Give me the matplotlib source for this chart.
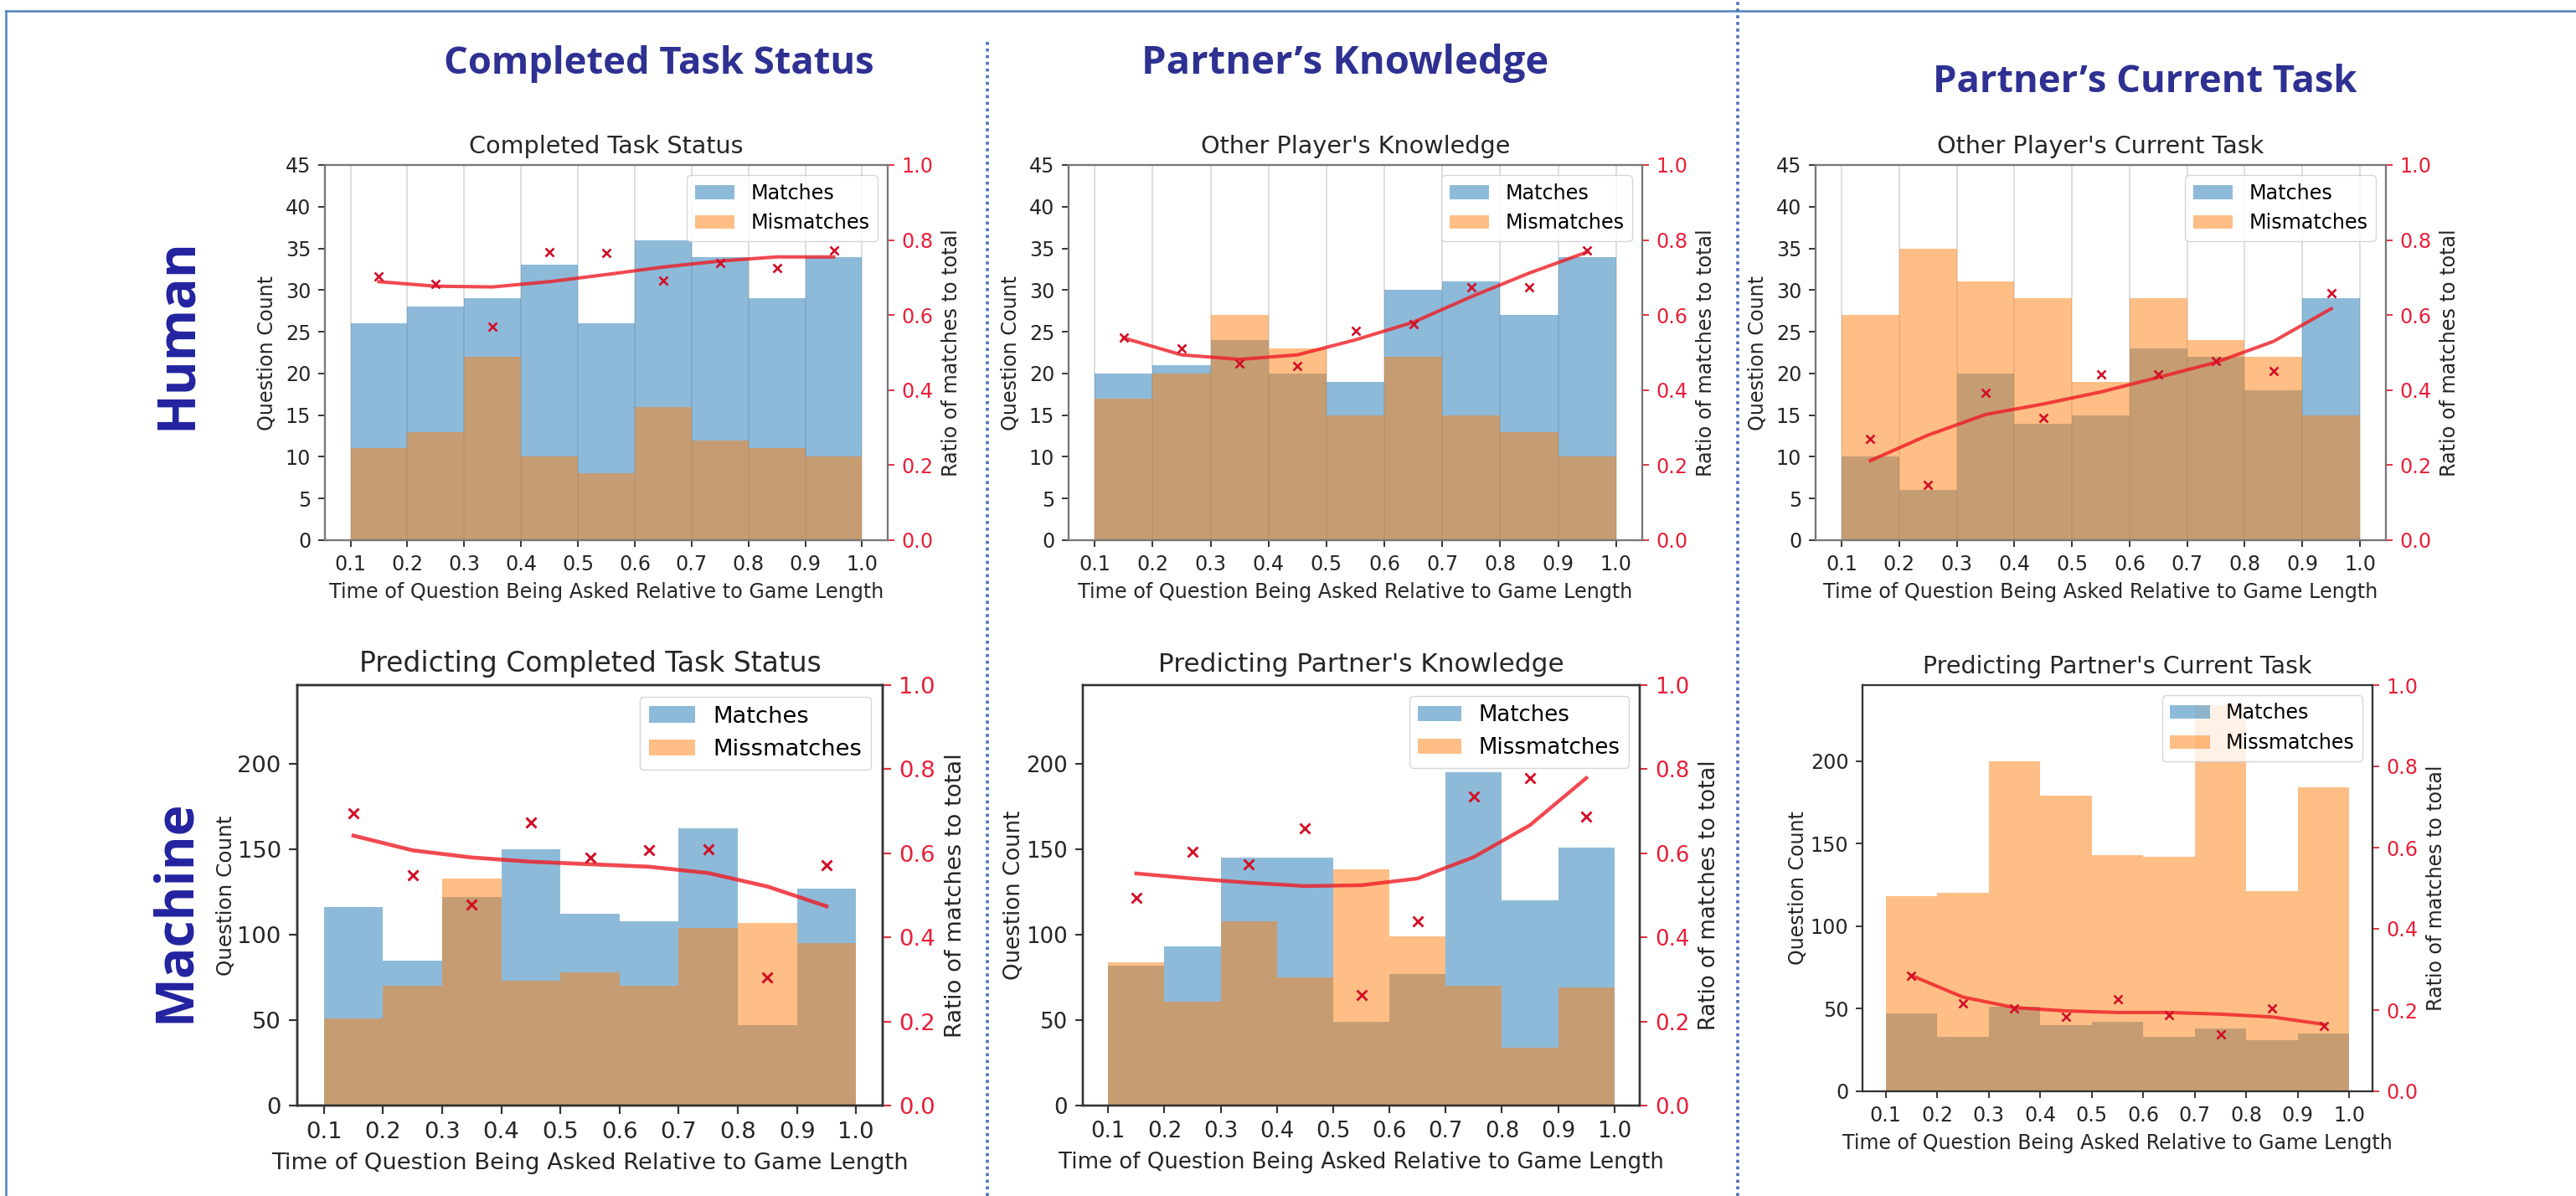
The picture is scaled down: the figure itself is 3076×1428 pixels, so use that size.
import numpy as np
import matplotlib
matplotlib.use('Agg')
import matplotlib.pyplot as plt
from matplotlib import font_manager as fm
from matplotlib.lines import Line2D

# ---------------- data ----------------
bin_edges = [0.1, 0.2, 0.3, 0.4, 0.5, 0.6, 0.7, 0.8, 0.9, 1.0]
bin_centers = [0.15, 0.25, 0.35, 0.45, 0.55, 0.65, 0.75, 0.85, 0.95]
xtick_labels = ['0.1', '0.2', '0.3', '0.4', '0.5', '0.6', '0.7', '0.8', '0.9', '1.0']

col_headers = ['Completed Task Status', 'Partner\u2019s Knowledge', 'Partner\u2019s Current Task']
row_labels = ['Human', 'Machine']

titles = ['Completed Task Status', "Other Player's Knowledge", "Other Player's Current Task",
          'Predicting Completed Task Status', "Predicting Partner's Knowledge",
          "Predicting Partner's Current Task"]
legend_top = ['Matches', 'Mismatches']
legend_bottom = ['Matches', 'Missmatches']
xlabel = 'Time of Question Being Asked Relative to Game Length'
ylabel = 'Question Count'
ylabel_right = 'Ratio of matches to total'

# Human - completed task status
h_task_matches = [26, 28, 29, 33, 26, 36, 34, 29, 34]
h_task_mismatches = [11, 13, 22, 10, 8, 16, 12, 11, 10]
h_task_trend = [0.689, 0.677, 0.675, 0.689, 0.708, 0.728, 0.744, 0.755, 0.755]
# Human - other player's knowledge
h_know_matches = [20, 21, 24, 20, 19, 30, 31, 27, 34]
h_know_mismatches = [17, 20, 27, 23, 15, 22, 15, 13, 10]
h_know_trend = [0.539, 0.494, 0.482, 0.494, 0.534, 0.581, 0.649, 0.712, 0.768]
# Human - other player's current task
h_cur_matches = [10, 6, 20, 14, 15, 23, 22, 18, 29]
h_cur_mismatches = [27, 35, 31, 29, 19, 29, 24, 22, 15]
h_cur_trend = [0.212, 0.280, 0.335, 0.363, 0.395, 0.434, 0.474, 0.530, 0.617]
# Machine - completed task status
m_task_matches = [116, 85, 122, 150, 112, 108, 162, 47, 127]
m_task_mismatches = [51, 70, 133, 73, 78, 70, 104, 107, 95]
m_task_trend = [0.642, 0.607, 0.590, 0.580, 0.574, 0.568, 0.553, 0.521, 0.474]
# Machine - partner's knowledge
m_know_matches = [82, 93, 145, 145, 49, 77, 195, 120, 151]
m_know_mismatches = [84, 61, 108, 75, 138, 99, 70, 34, 69]
m_know_trend = [0.552, 0.540, 0.530, 0.522, 0.524, 0.540, 0.591, 0.667, 0.779]
# Machine - partner's current task
m_cur_matches = [47, 33, 51, 40, 42, 33, 38, 31, 35]
m_cur_mismatches = [118, 120, 200, 179, 143, 142, 234, 121, 184]
m_cur_trend = [0.285, 0.232, 0.206, 0.198, 0.194, 0.194, 0.190, 0.183, 0.165]

top_yticks = [0, 5, 10, 15, 20, 25, 30, 35, 40, 45]
bottom_yticks = [0, 50, 100, 150, 200]
right_yticks = [0.0, 0.2, 0.4, 0.6, 0.8, 1.0]

# ---------------- layout ----------------
W, H = 3076, 1428
DPI = 100
fig = plt.figure(figsize=(W / DPI, H / DPI), dpi=DPI)
fig.patch.set_facecolor('white')

avail = {f.name for f in fm.fontManager.ttflist}
head_font = next(f for f in ['Liberation Sans Narrow', 'Open Sans', 'Liberation Sans', 'DejaVu Sans'] if f in avail)

C_BLUE = '#1f77b4'
C_ORANGE = '#ff7f0e'
C_RED = '#ee1c24'

panels = [
    dict(rect=(388, 197, 1060, 645), fs=17.2, top=True, ylpad=4.0, ylfs=1.0, m=h_task_matches,
         mm=h_task_mismatches, trend=h_task_trend, title=titles[0]),
    dict(rect=(1276, 197, 1961, 645), fs=17.2, top=True, ylpad=4.0, ylfs=1.0, m=h_know_matches,
         mm=h_know_mismatches, trend=h_know_trend, title=titles[1]),
    dict(rect=(2168, 197, 2849, 645), fs=17.2, top=True, ylpad=4.0, ylfs=1.0, m=h_cur_matches,
         mm=h_cur_mismatches, trend=h_cur_trend, title=titles[2]),
    dict(rect=(355, 818, 1054, 1320), fs=19.7, top=False, ylpad=0.6, ylfs=0.9, m=m_task_matches,
         mm=m_task_mismatches, trend=m_task_trend, title=titles[3]),
    dict(rect=(1293, 818, 1958, 1320), fs=18.7, top=False, ylpad=0.6, ylfs=1.0, m=m_know_matches,
         mm=m_know_mismatches, trend=m_know_trend, title=titles[4]),
    dict(rect=(2224, 818, 2833, 1303), fs=17.1, top=False, ylpad=1.0, ylfs=1.0, m=m_cur_matches,
         mm=m_cur_mismatches, trend=m_cur_trend, title=titles[5]),
]

for p in panels:
    L, T, R, B = p['rect']
    ax = fig.add_axes([L / W, 1 - B / H, (R - L) / W, (B - T) / H])
    fs = p['fs']
    s = fs / 10.0
    spine_c = '#777777' if p['top'] else '#333333'
    lefts = bin_edges[:-1]
    ax.bar(lefts, p['m'], width=0.1, align='edge', color=C_BLUE, alpha=0.5, label='Matches', zorder=2)
    ax.bar(lefts, p['mm'], width=0.1, align='edge', color=C_ORANGE, alpha=0.5,
           label=(legend_top if p['top'] else legend_bottom)[1], zorder=2)
    ax.set_xlim(0.055, 1.045)
    if p['top']:
        ax.set_ylim(0, 45)
        ax.set_yticks(top_yticks)
        ax.grid(axis='x', color='#dddddd', lw=0.8 * s, zorder=0)
        ax.set_axisbelow(True)
    else:
        ax.set_ylim(0, 246)
        ax.set_yticks(bottom_yticks)
    ax.set_xticks(bin_edges)
    ax.set_xticklabels(xtick_labels)
    ax.tick_params(labelsize=fs, length=3.5 * s, width=0.8 * s, pad=3.5 * s,
                   colors='#333333', labelcolor='#262626')
    for sp in ax.spines.values():
        sp.set_color(spine_c)
        sp.set_linewidth(0.9 * s)
    ax.set_xlabel(xlabel, fontsize=fs, labelpad=4 * s, color='#262626')
    ax.set_ylabel(ylabel, fontsize=fs * p['ylfs'], labelpad=p['ylpad'] * s, color='#262626')
    ax.set_title(p['title'], fontsize=fs * 1.2, pad=6 * s, color='#262626')
    ax.legend(loc='upper right', fontsize=fs, framealpha=0.8)

    ax2 = ax.twinx()
    ratio = np.array(p['m']) / (np.array(p['m']) + np.array(p['mm']))
    ax2.plot(bin_centers, p['trend'], '-', color=C_RED, lw=1.7 * s, alpha=0.8, zorder=3)
    ax2.plot(bin_centers, ratio, 'x', color='#d01028', ms=4.5 * s, mew=1.1 * s, zorder=4)
    ax2.set_ylim(0, 1.0)
    ax2.set_yticks(right_yticks)
    ax2.set_yticklabels(['%.1f' % v for v in right_yticks])
    ax2.tick_params(labelsize=fs, length=3.5 * s, width=0.8 * s, pad=3.5 * s,
                    colors='#e03040', labelcolor='#e8203a')
    for sp in ax2.spines.values():
        sp.set_color(spine_c)
        sp.set_linewidth(0.9 * s)
    ax2.set_ylabel(ylabel_right, fontsize=fs, labelpad=4 * s, color='#262626')

# ---------------- decorations ----------------
renderer = fig.canvas.get_renderer()


def fit_size(text, target):
    t = fig.text(0, 0, text, fontsize=100, family=head_font, weight='bold')
    w = t.get_window_extent(renderer).width
    t.remove()
    return 100.0 * target / w


HEAD_C = '#2e3192'
ROW_C = '#2323a0'
header_specs = [(col_headers[0], 787, 88, 515), (col_headers[1], 1606, 88, 487),
                (col_headers[2], 2561, 110, 508)]
for txt, cx, by, tw in header_specs:
    fig.text(cx / W, 1 - by / H, txt, fontsize=fit_size(txt, tw), family=head_font,
             weight='bold', color=HEAD_C, ha='center', va='baseline')

row_specs = [(row_labels[0], 228, 399, 230), (row_labels[1], 226, 1088, 265)]
rsize = np.mean([fit_size(t, tw) for t, _, _, tw in row_specs])
for txt, bx, cy, tw in row_specs:
    fig.text(bx / W, 1 - cy / H, txt, fontsize=rsize, family=head_font, weight='bold',
             color=ROW_C, ha='center', va='baseline', rotation=90, rotation_mode='anchor')

# frame (top and left edge visible)
BORDER_C = '#4f81bd'
fig.add_artist(Line2D([7 / W, 1.0], [1 - 13 / H, 1 - 13 / H], color=BORDER_C, lw=1.8,
                      transform=fig.transFigure))
fig.add_artist(Line2D([7 / W, 7 / W], [0, 1 - 13 / H], color=BORDER_C, lw=1.8,
                      transform=fig.transFigure))
# dotted separators
SEP_C = '#4a72b8'
fig.add_artist(Line2D([1179 / W, 1179 / W], [0, 1 - 50 / H], color=SEP_C, lw=2.6,
                      linestyle=(0, (1, 1.2)), transform=fig.transFigure))
fig.add_artist(Line2D([2075 / W, 2075 / W], [0, 1], color=SEP_C, lw=2.6,
                      linestyle=(0, (1, 1.2)), transform=fig.transFigure))

fig.savefig('out.png', dpi=DPI)
